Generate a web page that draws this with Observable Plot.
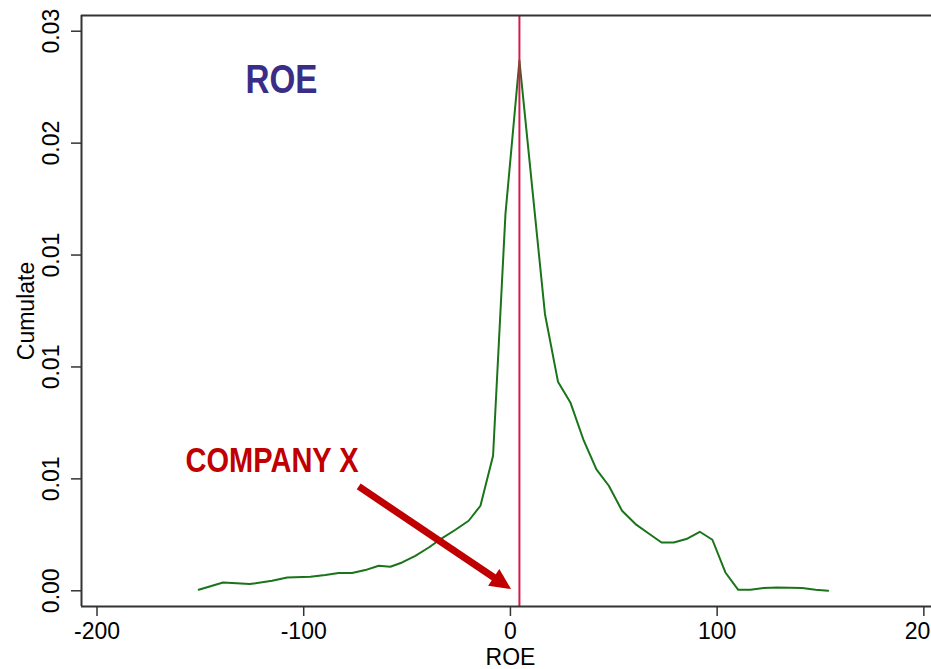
<!DOCTYPE html>
<html><head><meta charset="utf-8">
<script src="https://cdn.jsdelivr.net/npm/d3@7"></script>
<script src="https://cdn.jsdelivr.net/npm/@observablehq/plot@0.6"></script>
<style>
html,body{margin:0;padding:0;overflow:hidden;background:#fff;}
#chart svg{display:block;}
</style></head><body><div id="chart"></div>
<script>
// ROE values (x) and density ("Cumulate") values (y)
const roe = [-150.8,-139.0,-126.1,-115.3,-108.0,-96.8,-89.5,-83.1,-76.6,-70.2,-63.7,-58.1,-52.4,-46.0,-39.5,-33.0,-26.6,-20.2,-14.5,-8.4,-2.4,4.35,16.7,23.0,29.0,35.5,41.6,47.6,54.0,60.5,66.9,73.1,79.0,85.1,91.6,97.7,104.0,110.2,116.1,122.5,129.0,141.1,147.6,153.7];
const density = [0.000045,0.000371,0.000300,0.000447,0.000594,0.000626,0.000702,0.000791,0.000791,0.000925,0.001117,0.001073,0.001265,0.001564,0.001935,0.002356,0.002727,0.003129,0.003799,0.006034,0.016838,0.02369,0.012368,0.009342,0.008417,0.006705,0.005422,0.004693,0.003576,0.002981,0.002561,0.002159,0.002159,0.002311,0.002637,0.002280,0.000818,0.000045,0.000045,0.000121,0.000148,0.000121,0.000045,0.0];

const xTicks = [-200,-100,0,100,200];
const xTickLabels = ["-200","-100","0","100","200"];
const yTicks = [0,0.005,0.01,0.015,0.02,0.025];
const yTickLabels = ["0.00","0.01","0.01","0.01","0.02","0.03"];
const xDomain = [-207.5,203.7];
const yDomain = [-0.000702,0.025702];

const companyRoe = [4.35];
const titleText = ["ROE"];
const titleX = [-110.8];
const titleY = [0.02225];
const noteText = ["COMPANY X"];
const noteX = [-115.3];
const noteY = [0.005288];
const arrowX = [-73.4,0.34];
const arrowY = [0.004662,0.000076];
const xLabel = ["ROE"];
const yLabel = ["Cumulate"];

const axisColor = "#333";

const data = roe.map((r,i)=>({roe:r, density:density[i]}));
const arrowHead = {draw(ctx){ctx.moveTo(0,0);ctx.lineTo(-21,-10);ctx.lineTo(-21,10);ctx.closePath();}};

const chart = Plot.plot({
  width: 931, height: 669,
  marginLeft: 81, marginRight: 0, marginTop: 15, marginBottom: 63,
  style: {fontFamily: "'Liberation Sans',Arial,sans-serif", background: "#fff"},
  x: {domain: xDomain, axis: null},
  y: {domain: yDomain, axis: null},
  marks: [
    Plot.line(data, {x:"roe", y:"density", stroke:"#1a741a", strokeWidth:2}),
    Plot.ruleX(companyRoe, {stroke:"#d6194f", strokeWidth:2}),
    // frame (left, top, bottom)
    Plot.ruleX([xDomain[0]], {stroke:axisColor, strokeWidth:2}),
    Plot.ruleY([yDomain[0], yDomain[1]], {stroke:axisColor, strokeWidth:2}),
    // axes
    Plot.axisX({ticks:xTicks, tickSize:10, tickPadding:6, fontSize:23, stroke:axisColor, strokeWidth:1.5,
      tickFormat: d => xTickLabels[xTicks.indexOf(d)], label:null}),
    Plot.axisY({ticks:yTicks, tickSize:10, stroke:axisColor, strokeWidth:1.5, tickFormat: () => "", label:null}),
    Plot.text(yTicks, {y: d=>d, text: (d,i)=>yTickLabels[i], frameAnchor:"left", rotate:-90, dx:-22.7,
      textAnchor:"middle", lineAnchor:"bottom", fontSize:23, fill:"#000"}),
    Plot.text(yLabel, {text: d=>d, frameAnchor:"left", rotate:-90, dx:-48, textAnchor:"middle", lineAnchor:"bottom", fontSize:23, fill:"#000"}),
    Plot.text(xLabel, {text: d=>d, frameAnchor:"bottom", dx:4, dy:58, textAnchor:"middle", lineAnchor:"bottom", fontSize:23, fill:"#000"}),
    // annotations
    Plot.text(titleText, {x:(d,i)=>titleX[i], y:(d,i)=>titleY[i], text:d=>d, fill:"#3a2d87", fontSize:41, fontWeight:"bold",
      textAnchor:"middle", lineAnchor:"bottom", ariaLabel:"title-note"}),
    Plot.text(noteText, {x:(d,i)=>noteX[i], y:(d,i)=>noteY[i], text:d=>d, fill:"#c00000", fontSize:35, fontWeight:"bold",
      textAnchor:"middle", lineAnchor:"bottom", ariaLabel:"company-note"}),
    Plot.arrow([0], {x1:()=>arrowX[0], y1:()=>arrowY[0], x2:()=>arrowX[1], y2:()=>arrowY[1],
      stroke:"#c00000", strokeWidth:7, headLength:0, insetEnd:14, strokeLinecap:"butt"}),
    Plot.dot([0], {x:()=>arrowX[1], y:()=>arrowY[1], symbol:arrowHead, fill:"#c00000", stroke:"none", rotate:34})
  ]
});
// condensed look for the bold annotations (no narrow font installed)
const svg = d3.select(chart);
function condense(label, len) {
  svg.selectAll(`text[aria-label="${label}"], g[aria-label="${label}"] text`)
    .attr("textLength", len).attr("lengthAdjust", "spacingAndGlyphs");
}
svg.selectAll("text").each(function() {
  const t = this.textContent;
  if (t === titleText[0] && this.getAttribute("font-weight") !== null) {}
});
condense("title-note", 72);
condense("company-note", 173);
// fallback: match by content + weight
svg.selectAll('g[font-weight="bold"] text').each(function() {
  const t = this.textContent;
  if (t === titleText[0]) d3.select(this).attr("textLength", 72).attr("lengthAdjust", "spacingAndGlyphs");
  if (t === noteText[0]) d3.select(this).attr("textLength", 173).attr("lengthAdjust", "spacingAndGlyphs");
});
document.getElementById("chart").appendChild(chart);
</script></body></html>
